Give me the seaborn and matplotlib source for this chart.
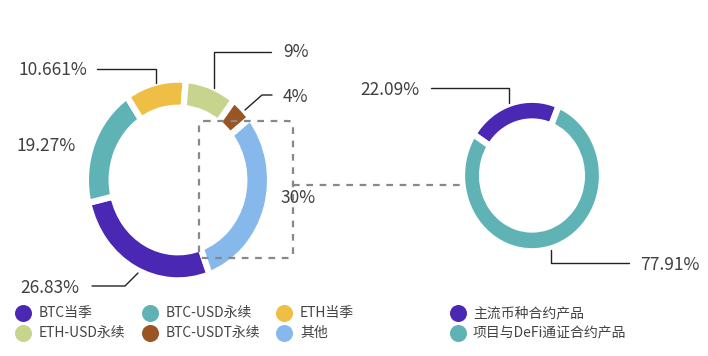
import matplotlib
matplotlib.use("Agg")
import matplotlib.pyplot as plt
import seaborn as sns
from matplotlib.patches import FancyBboxPatch

sns.set_theme(style="white")
plt.rcParams['font.family'] = ['Noto Sans CJK SC', 'DejaVu Sans']

# left donut: contract products
left_names = ["BTC当季", "BTC-USD永续", "ETH当季", "ETH-USD永续", "BTC-USDT永续", "其他"]
left_values = [26.83, 19.27, 10.661, 9, 4, 30]
left_text = ["26.83%", "19.27%", "10.661%", "9%", "4%", "30%"]
left_colors = ["#4a28b4", "#5fb3b4", "#efbe44", "#c6d48e", "#9a5524", "#86b8ec"]

# right donut: breakdown of "其他"
right_names = ["主流币种合约产品", "项目与DeFi通证合约产品"]
right_values = [22.09, 77.91]
right_text = ["22.09%", "77.91%"]
right_colors = ["#4a28b4", "#5fb3b4"]

W, H = 708, 356
fig = plt.figure(figsize=(W / 100, H / 100), dpi=100)


def donut_axes(cx, cy, rx, ry):
    ax = fig.add_axes([(cx - rx) / W, (H - cy - ry) / H, 2 * rx / W, 2 * ry / H])
    ax.patch.set_alpha(0)
    return ax


axl = donut_axes(178, 180, 89, 97)
axl.pie(left_values, colors=left_colors, startangle=-70, counterclock=False,
        radius=1.035, wedgeprops=dict(width=0.29, edgecolor="white", linewidth=4.5))
axl.set_aspect("auto")
axl.set_xlim(-1, 1)
axl.set_ylim(-1, 1)
axl.axis("off")

axr = donut_axes(532, 175.5, 67, 72.5)
axr.pie(right_values, colors=right_colors, startangle=147, counterclock=False,
        radius=1.045, wedgeprops=dict(width=0.30, edgecolor="white", linewidth=4.5))
axr.set_aspect("auto")
axr.set_xlim(-1, 1)
axr.set_ylim(-1, 1)
axr.axis("off")

# overlay in pixel coordinates for labels, leader lines, legend
ov = fig.add_axes([0, 0, 1, 1])
ov.patch.set_alpha(0)

txt = dict(fontsize=12.5, color="#404040", va="center", ha="left", fontweight="light")
label_pos = [(20, 288), (16, 146), (18, 70), (283, 52), (283, 97), (280, 198)]
for (x, y), s in zip(label_pos, left_text):
    ov.text(x, y, s, **txt)
right_pos = [(360, 90), (640, 265)]
for (x, y), s in zip(right_pos, right_text):
    ov.text(x, y, s, **txt)

lk = dict(color="#222222", lw=1)
ov.plot([92, 125, 138], [286, 286, 273], **lk)
ov.plot([97, 156, 156], [69, 69, 83], **lk)
ov.plot([271, 214, 214], [52, 52, 88], **lk)
ov.plot([272, 262, 245], [95, 95, 110], **lk)
ov.plot([431, 509, 509], [88, 88, 103], **lk)
ov.plot([551, 551, 629], [250, 263, 263], **lk)

# zoom box around "其他" and connector
box = FancyBboxPatch((199, 121), 94, 137, boxstyle="round,pad=0,rounding_size=5",
                     fill=False, edgecolor="#888888", lw=1.6, linestyle=(0, (3, 3)))
ov.add_patch(box)
ov.plot([293, 463], [185, 185], color="#888888", lw=1.6, linestyle=(0, (3, 3)))

# legends
leg_txt = dict(fontsize=10, color="#444444", va="center", ha="left", fontweight="light")
cols_x = [23, 150, 284]
rows_y = [313, 333]
for i, (name, c) in enumerate(zip(left_names, left_colors)):
    x = cols_x[i % 3]
    y = rows_y[i // 3]
    sns.scatterplot(x=[x], y=[y], color=c, s=150, linewidth=0, ax=ov, legend=False)
    ov.text(x + 16, y, name, **leg_txt)
for i, (name, c) in enumerate(zip(right_names, right_colors)):
    x, y = 458, rows_y[i]
    sns.scatterplot(x=[x], y=[y], color=c, s=150, linewidth=0, ax=ov, legend=False)
    ov.text(x + 15, y, name, **leg_txt)
ov.set_xlim(0, W)
ov.set_ylim(H, 0)
ov.axis("off")

fig.savefig("out.png", dpi=100, facecolor="white")
